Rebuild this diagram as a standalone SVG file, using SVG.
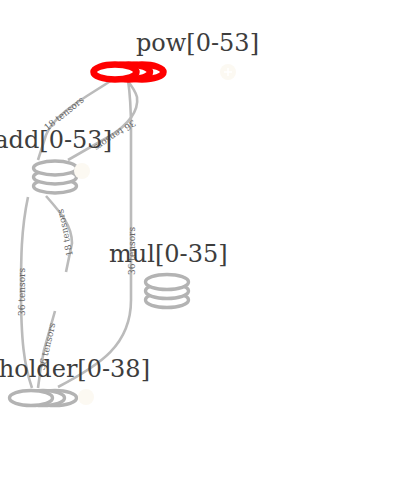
<svg xmlns="http://www.w3.org/2000/svg" width="420" height="499" viewBox="0 0 420 499">
<style>
.lbl{font-family:"DejaVu Serif","Liberation Serif",serif;font-size:24px;fill:#3d3d3d}
.el{font-family:"DejaVu Serif","Liberation Serif",serif;font-size:9px;fill:#666}
.edge{fill:none;stroke:#bbb;stroke-width:2.6}
.gs{fill:#fff;stroke:#b3b3b3;stroke-width:3.4}
.rs{fill:#fff;stroke:#f00;stroke-width:6.5}
.btn{fill:#fcf9f2}
.btnp{stroke:#fff;stroke-width:1.5}
</style>
<rect width="420" height="499" fill="#fff"/>
<g id="connectors">
<path class="edge" d="M112,80 C90,95 55,112 46,135 L38,160"/>
<path class="edge" d="M68,160 L110,136 C128,125 139,111 137,97 C135,90 131,85 127,80"/>
<path class="edge" d="M128,80 C131,100 131,112 131,130 L131,300 C131,345 100,365 58,387"/>
<path class="edge" d="M46,196 C60,212 72,225 72,243 L66,272"/>
<path class="edge" d="M55,311 L44,350 Q40,370 38,388"/>
<path class="edge" d="M28,197 C21,230 21,260 21,290 C21,340 24,365 32,388"/>
<text class="el" transform="translate(66,116) rotate(-39)" text-anchor="middle">18 tensors</text>
<text class="el" transform="translate(113,133) rotate(146)" text-anchor="middle">36 tensors</text>
<text class="el" transform="translate(135,251) rotate(-90)" text-anchor="middle">36 tensors</text>
<text class="el" transform="translate(68,232) rotate(-102)" text-anchor="middle">18 tensors</text>
<text class="el" transform="translate(25,292) rotate(-90)" text-anchor="middle">36 tensors</text>
<text class="el" transform="translate(50,347) rotate(-77)" text-anchor="middle">36 tensors</text>
</g>
<g id="pow">
<ellipse class="rs" cx="142" cy="72" rx="21.5" ry="7.5"/>
<ellipse class="rs" cx="128.5" cy="72" rx="21.5" ry="7.5"/>
<ellipse class="rs" cx="115" cy="72" rx="21.5" ry="7.5"/>
<circle class="btn" cx="228" cy="72" r="8"/>
<path class="btnp" d="M224,72 H232 M228,68 V76"/>
<text class="lbl" x="136" y="51">pow[0-53]</text>
</g>
<g id="add">
<ellipse class="gs" cx="55" cy="186" rx="21.5" ry="7"/>
<ellipse class="gs" cx="55" cy="177" rx="21.5" ry="7"/>
<ellipse class="gs" cx="55" cy="168" rx="21.5" ry="7"/>
<circle class="btn" cx="82" cy="171" r="8"/>
<text class="lbl" x="112" y="148" text-anchor="end">add[0-53]</text>
</g>
<g id="mul">
<ellipse class="gs" cx="167" cy="300" rx="21.5" ry="7.5"/>
<ellipse class="gs" cx="167" cy="291" rx="21.5" ry="7.5"/>
<ellipse class="gs" cx="167" cy="282" rx="21.5" ry="7.5"/>
<text class="lbl" x="109" y="262">mul[0-35]</text>
</g>
<g id="Placeholder">
<ellipse class="gs" cx="55" cy="398" rx="21.5" ry="7.5"/>
<ellipse class="gs" cx="43" cy="398" rx="21.5" ry="7.5"/>
<ellipse class="gs" cx="31" cy="398" rx="21.5" ry="7.5"/>
<circle class="btn" cx="86" cy="397" r="8"/>
<text class="lbl" x="150" y="377" text-anchor="end">Placeholder[0-38]</text>
</g>
</svg>
